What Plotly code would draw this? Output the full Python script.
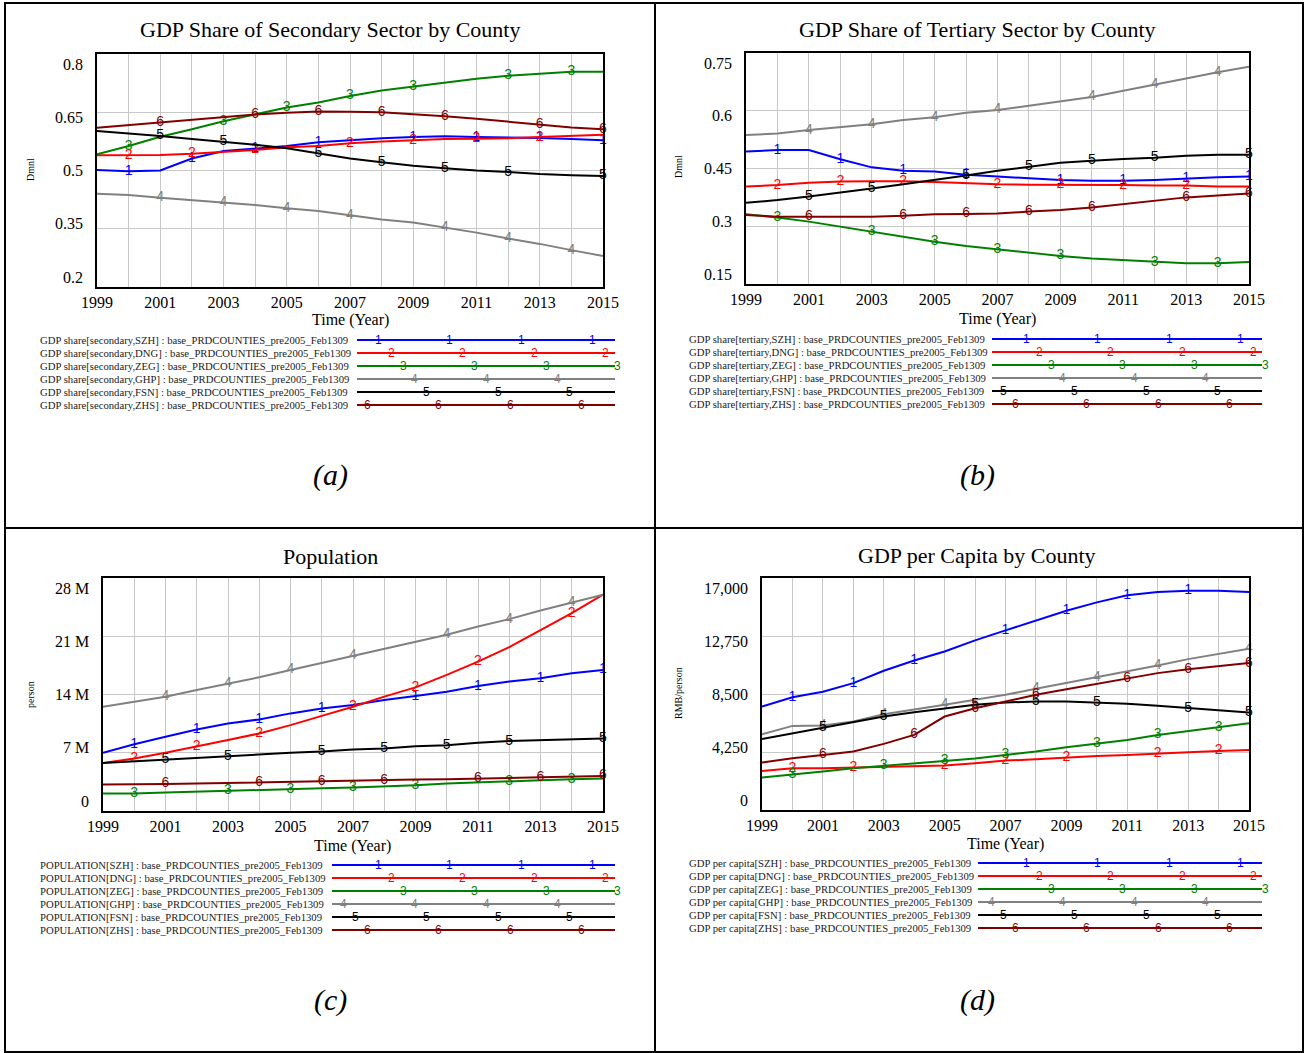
import plotly.graph_objects as go

W, H = 1309, 1053

years = list(range(1999, 2016))
counties = ["SZH", "DNG", "ZEG", "GHP", "FSN", "ZHS"]

# (a) GDP share of secondary sector (Dmnl)
sec_SZH = [0.501, 0.498, 0.500, 0.531, 0.550, 0.557, 0.563, 0.573, 0.578, 0.583, 0.586, 0.588, 0.586, 0.585, 0.584, 0.581, 0.578]
sec_DNG = [0.539, 0.539, 0.540, 0.543, 0.548, 0.553, 0.560, 0.563, 0.570, 0.575, 0.578, 0.581, 0.582, 0.583, 0.586, 0.589, 0.592]
sec_ZEG = [0.542, 0.563, 0.587, 0.606, 0.627, 0.645, 0.662, 0.675, 0.692, 0.706, 0.716, 0.727, 0.736, 0.744, 0.749, 0.754, 0.754]
sec_GHP = [0.440, 0.437, 0.430, 0.424, 0.418, 0.411, 0.403, 0.396, 0.385, 0.374, 0.366, 0.353, 0.340, 0.325, 0.311, 0.295, 0.280]
sec_FSN = [0.602, 0.596, 0.589, 0.581, 0.574, 0.566, 0.557, 0.544, 0.531, 0.521, 0.512, 0.506, 0.500, 0.496, 0.491, 0.488, 0.486]
sec_ZHS = [0.610, 0.617, 0.623, 0.630, 0.638, 0.644, 0.649, 0.652, 0.651, 0.650, 0.645, 0.640, 0.633, 0.626, 0.618, 0.611, 0.606]

# (b) GDP share of tertiary sector (Dmnl)
ter_SZH = [0.494, 0.498, 0.498, 0.474, 0.453, 0.444, 0.442, 0.434, 0.429, 0.424, 0.420, 0.418, 0.418, 0.420, 0.424, 0.427, 0.429]
ter_DNG = [0.403, 0.407, 0.413, 0.416, 0.417, 0.417, 0.415, 0.412, 0.409, 0.408, 0.408, 0.408, 0.407, 0.406, 0.406, 0.403, 0.403]
ter_ZEG = [0.331, 0.323, 0.312, 0.299, 0.286, 0.273, 0.260, 0.249, 0.240, 0.231, 0.223, 0.216, 0.212, 0.207, 0.204, 0.204, 0.207]
ter_GHP = [0.537, 0.541, 0.550, 0.558, 0.565, 0.576, 0.583, 0.595, 0.602, 0.613, 0.625, 0.636, 0.652, 0.667, 0.684, 0.700, 0.714]
ter_FSN = [0.361, 0.368, 0.377, 0.387, 0.398, 0.409, 0.420, 0.432, 0.444, 0.455, 0.465, 0.470, 0.475, 0.478, 0.483, 0.486, 0.486]
ter_ZHS = [0.329, 0.325, 0.325, 0.325, 0.325, 0.327, 0.331, 0.332, 0.333, 0.338, 0.342, 0.349, 0.358, 0.366, 0.375, 0.380, 0.385]

# (c) Population (person)
pop_SZH = [6.99e6, 8.03e6, 8.92e6, 9.80e6, 10.52e6, 11.00e6, 11.73e6, 12.33e6, 12.73e6, 13.34e6, 13.82e6, 14.34e6, 15.02e6, 15.55e6, 15.95e6, 16.55e6, 16.95e6]
pop_DNG = [5.78e6, 6.31e6, 6.99e6, 7.71e6, 8.52e6, 9.32e6, 10.32e6, 11.43e6, 12.53e6, 13.74e6, 14.86e6, 16.35e6, 17.96e6, 19.68e6, 21.77e6, 23.78e6, 26.00e6]
pop_ZEG = [2.09e6, 2.09e6, 2.21e6, 2.33e6, 2.41e6, 2.49e6, 2.61e6, 2.73e6, 2.81e6, 2.93e6, 3.09e6, 3.29e6, 3.45e6, 3.54e6, 3.70e6, 3.82e6, 3.90e6]
pop_GHP = [12.53e6, 13.14e6, 13.74e6, 14.54e6, 15.27e6, 16.07e6, 16.95e6, 17.80e6, 18.64e6, 19.48e6, 20.37e6, 21.17e6, 22.17e6, 23.06e6, 24.10e6, 25.07e6, 26.00e6]
pop_FSN = [5.78e6, 5.99e6, 6.19e6, 6.39e6, 6.59e6, 6.79e6, 6.99e6, 7.15e6, 7.39e6, 7.51e6, 7.79e6, 7.91e6, 8.20e6, 8.40e6, 8.52e6, 8.60e6, 8.72e6]
pop_ZHS = [3.17e6, 3.17e6, 3.25e6, 3.29e6, 3.37e6, 3.45e6, 3.54e6, 3.58e6, 3.62e6, 3.70e6, 3.78e6, 3.82e6, 3.94e6, 3.98e6, 4.06e6, 4.10e6, 4.22e6]

# (d) GDP per capita (RMB/person)
gpc_SZH = [7583, 8268, 8659, 9295, 10200, 10958, 11619, 12426, 13160, 13893, 14603, 15214, 15728, 15973, 16070, 16070, 15973]
gpc_DNG = [2862, 3058, 3058, 3106, 3180, 3180, 3253, 3424, 3620, 3718, 3865, 3963, 4036, 4109, 4232, 4329, 4403]
gpc_ZEG = [2373, 2568, 2813, 3058, 3229, 3424, 3620, 3770, 4036, 4281, 4599, 4843, 5137, 5504, 5797, 6066, 6360]
gpc_GHP = [5553, 6164, 6189, 6482, 7020, 7338, 7705, 8072, 8439, 8879, 9295, 9711, 10151, 10591, 11056, 11447, 11814]
gpc_FSN = [5210, 5626, 6042, 6409, 6849, 7167, 7460, 7705, 7876, 7950, 7950, 7876, 7778, 7632, 7460, 7289, 7142]
gpc_ZHS = [3473, 3791, 4036, 4281, 4843, 5504, 6849, 7460, 7950, 8439, 8855, 9246, 9662, 10029, 10322, 10518, 10763]

# tick values / labels
yticks_a = [0.2, 0.35, 0.5, 0.65, 0.8]
ytext_a = ["0.2", "0.35", "0.5", "0.65", "0.8"]
yticks_b = [0.15, 0.3, 0.45, 0.6, 0.75]
ytext_b = ["0.15", "0.3", "0.45", "0.6", "0.75"]
yticks_c = [0, 7e6, 14e6, 21e6, 28e6]
ytext_c = ["0", "7 M", "14 M", "21 M", "28 M"]
yticks_d = [0, 4250, 8500, 12750, 17000]
ytext_d = ["0", "4,250", "8,500", "12,750", "17,000"]
xtext = [str(y) if (y - 1999) % 2 == 0 else "" for y in years]

titles = ["GDP Share of Secondary Sector by County", "GDP Share of Tertiary Sector by County",
          "Population", "GDP per Capita by County"]
ytitles = ["Dmnl", "Dmnl", "person", "RMB/person"]
captions = ["(a)", "(b)", "(c)", "(d)"]
legend_fmt = ["GDP share[secondary,{c}] : base_PRDCOUNTIES_pre2005_Feb1309",
              "GDP share[tertiary,{c}] : base_PRDCOUNTIES_pre2005_Feb1309",
              "POPULATION[{c}] : base_PRDCOUNTIES_pre2005_Feb1309",
              "GDP per capita[{c}] : base_PRDCOUNTIES_pre2005_Feb1309"]

# ---------------- styling ----------------
colors = ["#0000ff", "#ff0000", "#008000", "#808080", "#000000", "#800000"]
SERIF = "Liberation Serif, Times New Roman, serif"
SANS = "Liberation Sans, Arial, sans-serif"

mk_ab = [[2000, 2002, 2004, 2006, 2009, 2011, 2013, 2015], [2000, 2002, 2004, 2007, 2009, 2011, 2013],
         [2000, 2003, 2005, 2007, 2009, 2012, 2014], [2001, 2003, 2005, 2007, 2010, 2012, 2014],
         [2001, 2003, 2006, 2008, 2010, 2012, 2015], [2001, 2004, 2006, 2008, 2010, 2013, 2015]]
mk_c = [[2000, 2002, 2004, 2006, 2009, 2011, 2013, 2015], [2000, 2002, 2004, 2007, 2009, 2011, 2014],
        [2000, 2003, 2005, 2007, 2009, 2012, 2014], [2001, 2003, 2005, 2007, 2010, 2012, 2014],
        [2001, 2003, 2006, 2008, 2010, 2012, 2015], [2001, 2004, 2006, 2008, 2011, 2013, 2015]]
mk_d = [[2000, 2002, 2004, 2007, 2009, 2011, 2013], [2000, 2002, 2005, 2007, 2009, 2012, 2014],
        [2000, 2003, 2005, 2007, 2010, 2012, 2014], [2001, 2003, 2005, 2008, 2010, 2012, 2015],
        [2001, 2003, 2006, 2008, 2010, 2013, 2015], [2001, 2004, 2006, 2008, 2011, 2013, 2015]]

panels = [
    dict(series=[sec_SZH, sec_DNG, sec_ZEG, sec_GHP, sec_FSN, sec_ZHS], yticks=yticks_a, ytext=ytext_a,
         box=(97, 603, 54, 287), cx=330, title_y=30, ytitle_xy=(30, 170), xtitle_y=320, cap_y=475,
         leg=(38, 357, 615, 340), marks=mk_ab, legbase=0),
    dict(series=[ter_SZH, ter_DNG, ter_ZEG, ter_GHP, ter_FSN, ter_ZHS], yticks=yticks_b, ytext=ytext_b,
         box=(746, 1249, 53, 284), cx=977, title_y=30, ytitle_xy=(678, 167), xtitle_y=319, cap_y=475,
         leg=(687, 992, 1262, 339), marks=mk_ab, legbase=648),
    dict(series=[pop_SZH, pop_DNG, pop_ZEG, pop_GHP, pop_FSN, pop_ZHS], yticks=yticks_c, ytext=ytext_c,
         box=(103, 603, 578, 811), cx=330, title_y=556, ytitle_xy=(30, 695), xtitle_y=846, cap_y=1000,
         leg=(38, 332, 615, 865), marks=mk_c, legbase=0),
    dict(series=[gpc_SZH, gpc_DNG, gpc_ZEG, gpc_GHP, gpc_FSN, gpc_ZHS], yticks=yticks_d, ytext=ytext_d,
         box=(762, 1249, 578, 810), cx=977, title_y=555, ytitle_xy=(678, 693), xtitle_y=844, cap_y=1000,
         leg=(687, 978, 1262, 863), marks=mk_d, legbase=648),
]
leg_marker_base = [378, 391, 403, 343, 355, 367]
leg_step = 71.5


def PX(x):
    return x / W


def PY(y):
    return 1 - y / H


fig = go.Figure()
annotations = []
shapes = []
layout_axes = {}

for i, p in enumerate(panels):
    n = "" if i == 0 else str(i + 1)
    xa, ya = "x" + n, "y" + n
    x0, x1, y0, y1 = p["box"]
    yt = p["yticks"]
    layout_axes["xaxis" + n] = dict(
        domain=[PX(x0), PX(x1)], range=[1999, 2015], anchor=ya,
        tickvals=years, ticktext=xtext, tickfont=dict(family=SERIF, size=16, color="black"),
        ticks="", showgrid=True, gridcolor="#c8c8c8", gridwidth=1, zeroline=False,
        showline=True, linecolor="black", linewidth=2, mirror=True, fixedrange=True)
    layout_axes["yaxis" + n] = dict(
        domain=[PY(y1), PY(y0)], range=[yt[0], yt[-1]], anchor=xa,
        tickvals=yt, showticklabels=False, ticks="",
        showgrid=True, gridcolor="#c8c8c8", gridwidth=1, zeroline=False,
        showline=True, linecolor="black", linewidth=2, mirror=True, fixedrange=True)

    # y tick labels (Vensim style: end labels pulled inward)
    for k, (v, t) in enumerate(zip(yt, p["ytext"])):
        frac = k / (len(yt) - 1)
        annotations.append(dict(xref="paper", yref=ya, x=PX(x0), y=v, text=t, showarrow=False,
                                xanchor="right", yanchor="middle", xshift=-12, yshift=(0.5 - frac) * 20,
                                font=dict(family=SERIF, size=16, color="black")))

    for s, (vals, col) in enumerate(zip(p["series"], colors)):
        fig.add_trace(go.Scatter(x=years, y=vals, mode="lines", line=dict(color=col, width=2),
                                 xaxis=xa, yaxis=ya, showlegend=False,
                                 name=legend_fmt[i].format(c=counties[s])))
        mx = p["marks"][s]
        my = [vals[years.index(m)] for m in mx]
        fig.add_trace(go.Scatter(x=mx, y=my, mode="text", text=[str(s + 1)] * len(mx),
                                 textposition="middle center", cliponaxis=False,
                                 textfont=dict(family=SANS, size=14, color=col),
                                 xaxis=xa, yaxis=ya, showlegend=False, hoverinfo="skip"))

    # title, axis titles, caption
    annotations.append(dict(xref="paper", yref="paper", x=PX(p["cx"]), y=PY(p["title_y"]), text=titles[i],
                            showarrow=False, xanchor="center", yanchor="middle",
                            font=dict(family=SERIF, size=22, color="black")))
    annotations.append(dict(xref="paper", yref="paper", x=PX(p["ytitle_xy"][0]), y=PY(p["ytitle_xy"][1]),
                            text=ytitles[i], textangle=-90, showarrow=False, xanchor="center",
                            yanchor="middle", font=dict(family=SERIF, size=10, color="black")))
    annotations.append(dict(xref="paper", yref="paper", x=PX((x0 + x1) / 2), y=PY(p["xtitle_y"]),
                            text="Time (Year)", showarrow=False, xanchor="center", yanchor="middle",
                            font=dict(family=SERIF, size=16, color="black")))
    annotations.append(dict(xref="paper", yref="paper", x=PX(p["cx"]), y=PY(p["cap_y"]),
                            text="<i>" + captions[i] + "</i>", showarrow=False, xanchor="center",
                            yanchor="middle", font=dict(family=SERIF, size=30, color="black")))

    # legend (Vensim style)
    tx, lx0, lx1, ly = p["leg"]
    for s, col in enumerate(colors):
        yy = ly + 13 * s
        annotations.append(dict(xref="paper", yref="paper", x=PX(tx), y=PY(yy),
                                text=legend_fmt[i].format(c=counties[s]), showarrow=False,
                                xanchor="left", yanchor="middle",
                                font=dict(family=SERIF, size=10.7, color="#222")))
        shapes.append(dict(type="line", xref="paper", yref="paper", x0=PX(lx0), x1=PX(lx1),
                           y0=PY(yy), y1=PY(yy), line=dict(color=col, width=2)))
        mpos = leg_marker_base[s] + p["legbase"]
        while mpos < lx0:
            mpos += leg_step
        while mpos <= lx1 + 4:
            annotations.append(dict(xref="paper", yref="paper", x=PX(mpos), y=PY(yy), text=str(s + 1),
                                    showarrow=False, xanchor="center", yanchor="middle",
                                    font=dict(family=SANS, size=12, color=col)))
            mpos += leg_step

# panel frame
shapes.append(dict(type="rect", xref="paper", yref="paper", x0=PX(5), x1=PX(1303), y0=PY(1052), y1=PY(3),
                   line=dict(color="black", width=2)))
shapes.append(dict(type="line", xref="paper", yref="paper", x0=PX(655), x1=PX(655), y0=PY(1052), y1=PY(3),
                   line=dict(color="black", width=2)))
shapes.append(dict(type="line", xref="paper", yref="paper", x0=PX(5), x1=PX(1303), y0=PY(528), y1=PY(528),
                   line=dict(color="black", width=2)))

fig.update_layout(width=W, height=H, margin=dict(l=0, r=0, t=0, b=0, pad=0, autoexpand=False),
                  autosize=False, paper_bgcolor="white", plot_bgcolor="white", showlegend=False,
                  annotations=annotations, shapes=shapes, **layout_axes)

fig.write_html(
    "out.html",
    config={"displayModeBar": False, "responsive": False},
    post_script=("document.documentElement.style.margin='0';document.body.style.margin='0';"
                 "document.documentElement.style.overflow='hidden';document.body.style.overflow='hidden';"),
)
